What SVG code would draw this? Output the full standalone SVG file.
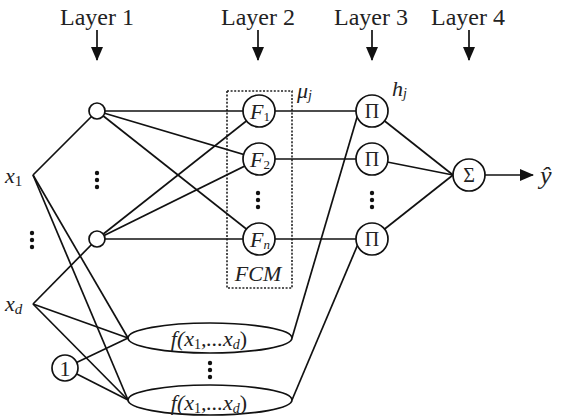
<svg xmlns="http://www.w3.org/2000/svg" width="565" height="417" viewBox="0 0 565 417" font-family="'Liberation Serif', 'DejaVu Serif', serif">
<style>
  .ln { stroke:#111; stroke-width:1.7; fill:none; }
  .nd { stroke:#111; stroke-width:1.7; fill:#fff; }
  text { font-family:'Liberation Serif', 'DejaVu Serif', serif; fill:#222; }
  .lay { font-size:24px; text-anchor:middle; }
  .it { font-style:italic; }
  .dot { fill:#111; }
</style>
<defs>
  <marker id="ah" markerWidth="14" markerHeight="12" refX="13" refY="6" orient="auto" markerUnits="userSpaceOnUse">
    <path d="M0,0 L14,6 L0,12 Z" fill="#111"/>
  </marker>
</defs>
<rect width="565" height="417" fill="#fff"/>

<g id="layer-labels">
  <text class="lay" x="97" y="25">Layer 1</text>
  <text class="lay" x="258" y="25">Layer 2</text>
  <text class="lay" x="371" y="25">Layer 3</text>
  <text class="lay" x="468" y="25">Layer 4</text>
  <line class="ln" x1="97" y1="30" x2="97" y2="60" marker-end="url(#ah)"/>
  <line class="ln" x1="258" y1="30" x2="258" y2="60" marker-end="url(#ah)"/>
  <line class="ln" x1="372" y1="30" x2="372" y2="60" marker-end="url(#ah)"/>
  <line class="ln" x1="469" y1="30" x2="469" y2="60" marker-end="url(#ah)"/>
</g>

<g id="fcm-box">
  <rect x="227" y="91" width="65" height="197" fill="none" stroke="#222" stroke-width="1.6" stroke-dasharray="2,1.6"/>
  <text class="it" x="258" y="281" font-size="22" text-anchor="middle">FCM</text>
</g>

<g id="connectors">
  <line class="ln" x1="33" y1="175" x2="97" y2="111"/>
  <line class="ln" x1="33" y1="175" x2="128" y2="338"/>
  <line class="ln" x1="33" y1="175" x2="128" y2="400"/>
  <line class="ln" x1="33" y1="304" x2="97" y2="239"/>
  <line class="ln" x1="33" y1="304" x2="128" y2="338"/>
  <line class="ln" x1="33" y1="304" x2="128" y2="400"/>
  <line class="ln" x1="65" y1="368" x2="128" y2="338"/>
  <line class="ln" x1="65" y1="368" x2="128" y2="400"/>
  <line class="ln" x1="97" y1="111" x2="259" y2="111"/>
  <line class="ln" x1="97" y1="111" x2="259" y2="159"/>
  <line class="ln" x1="97" y1="111" x2="259" y2="239"/>
  <line class="ln" x1="97" y1="239" x2="259" y2="111"/>
  <line class="ln" x1="97" y1="239" x2="259" y2="159"/>
  <line class="ln" x1="97" y1="239" x2="259" y2="239"/>
  <line class="ln" x1="259" y1="111" x2="372" y2="111"/>
  <line class="ln" x1="259" y1="159" x2="372" y2="159"/>
  <line class="ln" x1="259" y1="239" x2="372" y2="239"/>
  <line class="ln" x1="372" y1="111" x2="453" y2="175"/>
  <line class="ln" x1="372" y1="159" x2="453" y2="175"/>
  <line class="ln" x1="372" y1="239" x2="453" y2="175"/>
  <line class="ln" x1="292" y1="338" x2="358" y2="114"/>
  <line class="ln" x1="292" y1="400" x2="358" y2="244"/>
  <line class="ln" x1="485" y1="175" x2="533" y2="175" marker-end="url(#ah)"/>
</g>

<g id="input-x1">
  <text class="it" x="5" y="183" font-size="22">x<tspan font-style="normal" font-size="15" dy="3">1</tspan></text>
</g>
<g id="input-xd">
  <text class="it" x="5" y="311" font-size="22">x<tspan font-size="15" dy="3">d</tspan></text>
</g>
<g id="input-dots">
  <circle class="dot" cx="32" cy="233" r="2.2"/><circle class="dot" cx="32" cy="240" r="2.2"/><circle class="dot" cx="32" cy="247" r="2.2"/>
</g>

<g id="bias-1">
  <circle class="nd" cx="65" cy="368" r="13"/>
  <text x="65" y="376" font-size="22" text-anchor="middle">1</text>
</g>

<g id="l1-node-1"><circle class="nd" cx="97" cy="111" r="8"/></g>
<g id="l1-node-2"><circle class="nd" cx="97" cy="239" r="8"/></g>
<g id="l1-dots">
  <circle class="dot" cx="97" cy="173" r="2.2"/><circle class="dot" cx="97" cy="180" r="2.2"/><circle class="dot" cx="97" cy="187" r="2.2"/>
</g>

<g id="F1">
  <circle class="nd" cx="259" cy="111" r="16"/>
  <text class="it" x="250" y="119" font-size="22">F<tspan font-style="normal" font-size="13" dy="2">1</tspan></text>
</g>
<g id="F2">
  <circle class="nd" cx="259" cy="159" r="16"/>
  <text class="it" x="250" y="167" font-size="22">F<tspan font-style="normal" font-size="13" dy="2">2</tspan></text>
</g>
<g id="Fn">
  <circle class="nd" cx="259" cy="239" r="16"/>
  <text class="it" x="250" y="247" font-size="22">F<tspan font-size="13" dy="2">n</tspan></text>
</g>
<g id="F-dots">
  <circle class="dot" cx="258" cy="193" r="2.2"/><circle class="dot" cx="258" cy="200" r="2.2"/><circle class="dot" cx="258" cy="207" r="2.2"/>
</g>
<g id="mu-label">
  <text class="it" x="297" y="98" font-size="22">μ<tspan font-size="14" dy="2">j</tspan></text>
</g>

<g id="P1">
  <circle class="nd" cx="372" cy="111" r="16"/>
  <text x="372" y="118" font-size="20" text-anchor="middle">Π</text>
</g>
<g id="P2">
  <circle class="nd" cx="372" cy="159" r="16"/>
  <text x="372" y="166" font-size="20" text-anchor="middle">Π</text>
</g>
<g id="Pn">
  <circle class="nd" cx="372" cy="239" r="16"/>
  <text x="372" y="246" font-size="20" text-anchor="middle">Π</text>
</g>
<g id="P-dots">
  <circle class="dot" cx="372" cy="193" r="2.2"/><circle class="dot" cx="372" cy="200" r="2.2"/><circle class="dot" cx="372" cy="207" r="2.2"/>
</g>
<g id="h-label">
  <text class="it" x="392" y="96" font-size="22">h<tspan font-size="14" dy="2">j</tspan></text>
</g>

<g id="sigma">
  <circle class="nd" cx="469" cy="175" r="16"/>
  <text x="469" y="182" font-size="20" text-anchor="middle">Σ</text>
</g>
<g id="output">
  <text class="it" x="540" y="184" font-size="26">ŷ</text>
</g>

<g id="f-node-1">
  <ellipse class="nd" cx="210" cy="338" rx="82" ry="15"/>
  <text class="it" x="209" y="346" font-size="22" text-anchor="middle">f(x<tspan font-style="normal" font-size="14" dy="3">1</tspan><tspan dy="-3">,...x</tspan><tspan font-size="14" dy="3">d</tspan><tspan font-style="normal" dy="-3">)</tspan></text>
</g>
<g id="f-dots">
  <circle class="dot" cx="210" cy="363" r="2.2"/><circle class="dot" cx="210" cy="370" r="2.2"/><circle class="dot" cx="210" cy="377" r="2.2"/>
</g>
<g id="f-node-2">
  <ellipse class="nd" cx="210" cy="400" rx="82" ry="15"/>
  <text class="it" x="209" y="410" font-size="22" text-anchor="middle">f(x<tspan font-style="normal" font-size="14" dy="3">1</tspan><tspan dy="-3">,...x</tspan><tspan font-size="14" dy="3">d</tspan><tspan font-style="normal" dy="-3">)</tspan></text>
</g>
</svg>
